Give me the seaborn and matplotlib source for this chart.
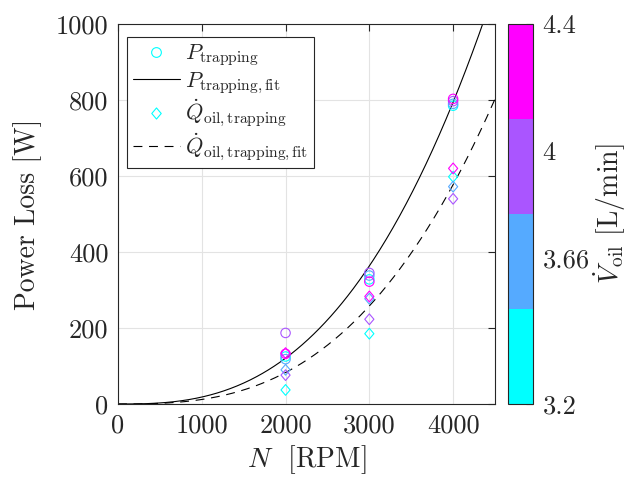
import numpy as np
import pandas as pd
import matplotlib
matplotlib.use("Agg")
import matplotlib.pyplot as plt
from matplotlib.colors import ListedColormap, Normalize
from matplotlib.lines import Line2D
from matplotlib.path import Path
import seaborn as sns

# Measured trapping losses at each shaft speed and oil flow rate
speed_rpm = [2000, 2000, 2000, 2000, 3000, 3000, 3000, 3000, 4000, 4000, 4000, 4000]
oil_flow = [3.2, 3.66, 4.0, 4.4, 3.2, 3.66, 4.0, 4.4, 3.2, 3.66, 4.0, 4.4]
p_trapping = [125, 118, 187, 132, 328, 338, 345, 322, 785, 790, 797, 803]
q_oil_trapping = [37, 90, 76, 134, 185, 277, 223, 283, 598, 572, 540, 620]

# Power-law fits  y = c * (N / 1000)^k
p_fit_coef, p_fit_exp = 18.3, 2.72
q_fit_coef, q_fit_exp = 11.9, 2.80

flow_levels = [3.2, 3.66, 4.0, 4.4]
flow_tick_labels = ["3.2", "3.66", "4", "4.4"]
flow_colors = ["#00ffff", "#55aaff", "#aa55ff", "#ff00ff"]

x_ticks = [0, 1000, 2000, 3000, 4000]
y_ticks = [0, 200, 400, 600, 800, 1000]

sns.set_style("white")
plt.rcParams["font.family"] = ["cmr10", "DejaVu Serif"]
plt.rcParams["mathtext.fontset"] = "cm"
plt.rcParams["axes.formatter.use_mathtext"] = True

ink = "#262626"
fig = plt.figure(figsize=(6.29, 4.82), dpi=100)
ax = fig.add_axes([118 / 629, 1 - 404 / 482, 377 / 629, 380 / 482])
cax = fig.add_axes([508 / 629, 1 - 404 / 482, 25 / 629, 380 / 482])

df = pd.DataFrame({"N": speed_rpm, "flow": oil_flow,
                   "P": p_trapping, "Q": q_oil_trapping})
palette = dict(zip(flow_levels, flow_colors))

# open diamond marker (taller than wide)
diamond = Path([(0, 1), (0.85, 0), (0, -1), (-0.85, 0), (0, 1)],
               [Path.MOVETO, Path.LINETO, Path.LINETO, Path.LINETO, Path.CLOSEPOLY])
dash = (0, (8, 6))

N_grid = np.linspace(0, 4500, 400)
fit_df = pd.DataFrame({
    "N": N_grid,
    "P": p_fit_coef * (N_grid / 1000) ** p_fit_exp,
    "Q": q_fit_coef * (N_grid / 1000) ** q_fit_exp,
})

sns.lineplot(data=fit_df, x="N", y="P", ax=ax, color="black", lw=0.8, zorder=2)
sns.lineplot(data=fit_df, x="N", y="Q", ax=ax, color="black", lw=0.8,
             linestyle=dash, zorder=2)


def hollow(collection):
    fc = collection.get_facecolors()
    collection.set_edgecolors(fc)
    collection.set_facecolors("none")


sns.scatterplot(data=df, x="N", y="P", hue="flow", palette=palette, marker="o",
                s=46, linewidth=0.8, legend=False, ax=ax, zorder=3)
hollow(ax.collections[-1])
sns.scatterplot(data=df, x="N", y="Q", hue="flow", palette=palette, marker=diamond,
                s=60, linewidth=0.8, legend=False, ax=ax, zorder=3)
hollow(ax.collections[-1])

ax.set_xlim(0, 4500)
ax.set_ylim(0, 1000)
ax.set_xticks(x_ticks)
ax.set_yticks(y_ticks)
ax.set_xticklabels([str(t) for t in x_ticks])
ax.set_yticklabels([str(t) for t in y_ticks])
ax.grid(True, color="#e3e3e3", lw=0.8)
ax.set_axisbelow(True)
ax.tick_params(direction="in", top=True, right=True, length=5, width=0.8,
               labelsize=19, colors=ink, pad=7)
for s in ax.spines.values():
    s.set_color(ink)
    s.set_linewidth(0.8)
ax.set_xlabel(r"$N$  [RPM]", fontsize=20, color=ink, labelpad=4)
ax.set_ylabel("Power Loss [W]", fontsize=20, color=ink, labelpad=10)

handles = [
    Line2D([], [], ls="none", marker="o", mfc="none", mec=flow_colors[0], ms=7, mew=0.8),
    Line2D([], [], color="black", lw=0.8),
    Line2D([], [], ls="none", marker=diamond, mfc="none", mec=flow_colors[0], ms=8, mew=0.8),
    Line2D([], [], color="black", lw=0.8, ls=dash),
]
labels = [r"$P_{\rm trapping}$", r"$P_{\rm trapping,fit}$",
          r"$\dot{Q}_{\rm oil,trapping}$", r"$\dot{Q}_{\rm oil,trapping,fit}$"]
leg = ax.legend(handles, labels, loc="upper left", bbox_to_anchor=(0.025, 0.967),
                fontsize=16, frameon=True, fancybox=False, framealpha=1,
                edgecolor=ink, handlelength=2.1, handletextpad=0.25,
                labelspacing=0.1, borderpad=0.25, borderaxespad=0)
leg.get_frame().set_linewidth(0.8)

cmap = ListedColormap(flow_colors)
sm = matplotlib.cm.ScalarMappable(norm=Normalize(3.2, 4.4), cmap=cmap)
cb = fig.colorbar(sm, cax=cax, ticks=flow_levels)
cb.ax.set_yticklabels(flow_tick_labels)
cb.ax.tick_params(direction="in", length=5, width=0.8, labelsize=19, colors=ink, pad=7)
cb.outline.set_edgecolor(ink)
cb.outline.set_linewidth(0.8)
cb.set_label(r"$\dot{V}_{\rm oil}$ [L/min]", fontsize=20, color=ink, labelpad=1)

fig.savefig("out.png", dpi=100)
